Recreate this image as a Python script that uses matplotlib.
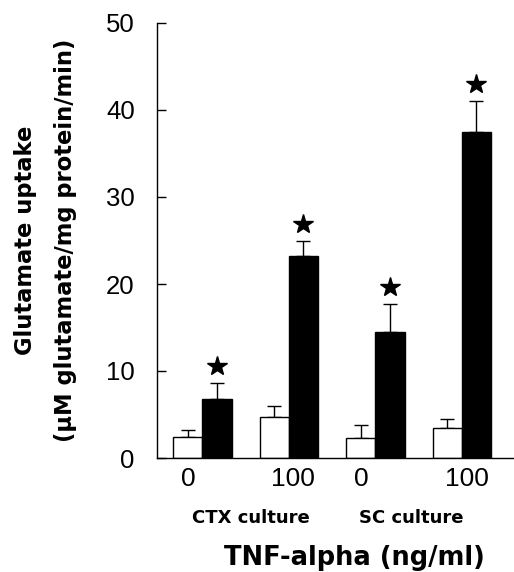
import numpy as np
import matplotlib
matplotlib.use("Agg")
import matplotlib.pyplot as plt

# Glutamate uptake, control vs TNF-alpha treated cultures
groups = ["0", "100", "0", "100"]
cultures = ["CTX culture", "SC culture"]
ctrl_mean = [2.45, 4.75, 2.3, 3.5]
ctrl_sem = [0.75, 1.25, 1.5, 0.95]
tnf_mean = [6.8, 23.25, 14.5, 37.5]
tnf_sem = [1.8, 1.65, 3.2, 3.5]

plt.rcParams["font.family"] = ["Liberation Sans", "DejaVu Sans"]

fig = plt.figure(figsize=(5.14, 5.72), dpi=100)
ax = fig.add_axes([157 / 514, 114 / 572, 357 / 514, 435 / 572])

x = np.arange(len(groups))
w = 0.338

# open bars = control, filled bars = treated, error bars only pointing up
ax.bar(x - w / 2, ctrl_mean, w, color="white", edgecolor="black", linewidth=1.0, zorder=2)
ax.bar(x + w / 2, tnf_mean, w, color="black", edgecolor="black", linewidth=1.0, zorder=2)
ax.errorbar(x - w / 2, ctrl_mean, yerr=[np.zeros(4), ctrl_sem], fmt="none",
            ecolor="black", elinewidth=1.0, capsize=5, capthick=1.0, zorder=1)
ax.errorbar(x + w / 2, tnf_mean, yerr=[np.zeros(4), tnf_sem], fmt="none",
            ecolor="black", elinewidth=1.0, capsize=5, capthick=1.0, zorder=1)

# significance stars above the treated bars
star_y = np.array(tnf_mean) + np.array(tnf_sem) + 2.0
ax.plot(x + w / 2, star_y, "*", color="black", markersize=15, linestyle="none")

ax.set_ylim(0, 50)
ax.set_xlim(-0.524, 3.603)
ax.set_yticks(range(0, 51, 10))
ax.tick_params(axis="y", direction="in", length=6.5, width=1.0, pad=16, labelsize=18.5)
ax.set_xticks(x + np.array([-0.16, 0.05, -0.16, 0.06]))
ax.set_xticklabels(groups)
ax.tick_params(axis="x", length=0, pad=6.5, labelsize=19)

for side in ["top", "right"]:
    ax.spines[side].set_visible(False)
for side in ["left", "bottom"]:
    ax.spines[side].set_linewidth(1.0)

# culture labels under the doses, and axis titles
bold = dict(family="DejaVu Sans", weight="bold")
fig.text(251 / 514, 0.0862, cultures[0], ha="center", va="baseline", fontsize=13, **bold)
fig.text(411 / 514, 0.0862, cultures[1], ha="center", va="baseline", fontsize=13, **bold)
fig.text(0.689, 0.0122, "TNF-alpha (ng/ml)", ha="center", va="baseline", fontsize=18.5, **bold)

fig.text(0.05, 0.58, "Glutamate uptake", rotation=90, ha="center", va="center",
         fontsize=16.3, **bold)
fig.text(0.127, 0.58, "(µM glutamate/mg protein/min)", rotation=90, ha="center",
         va="center", fontsize=16.3, **bold)

fig.savefig("out.png", dpi=100)
